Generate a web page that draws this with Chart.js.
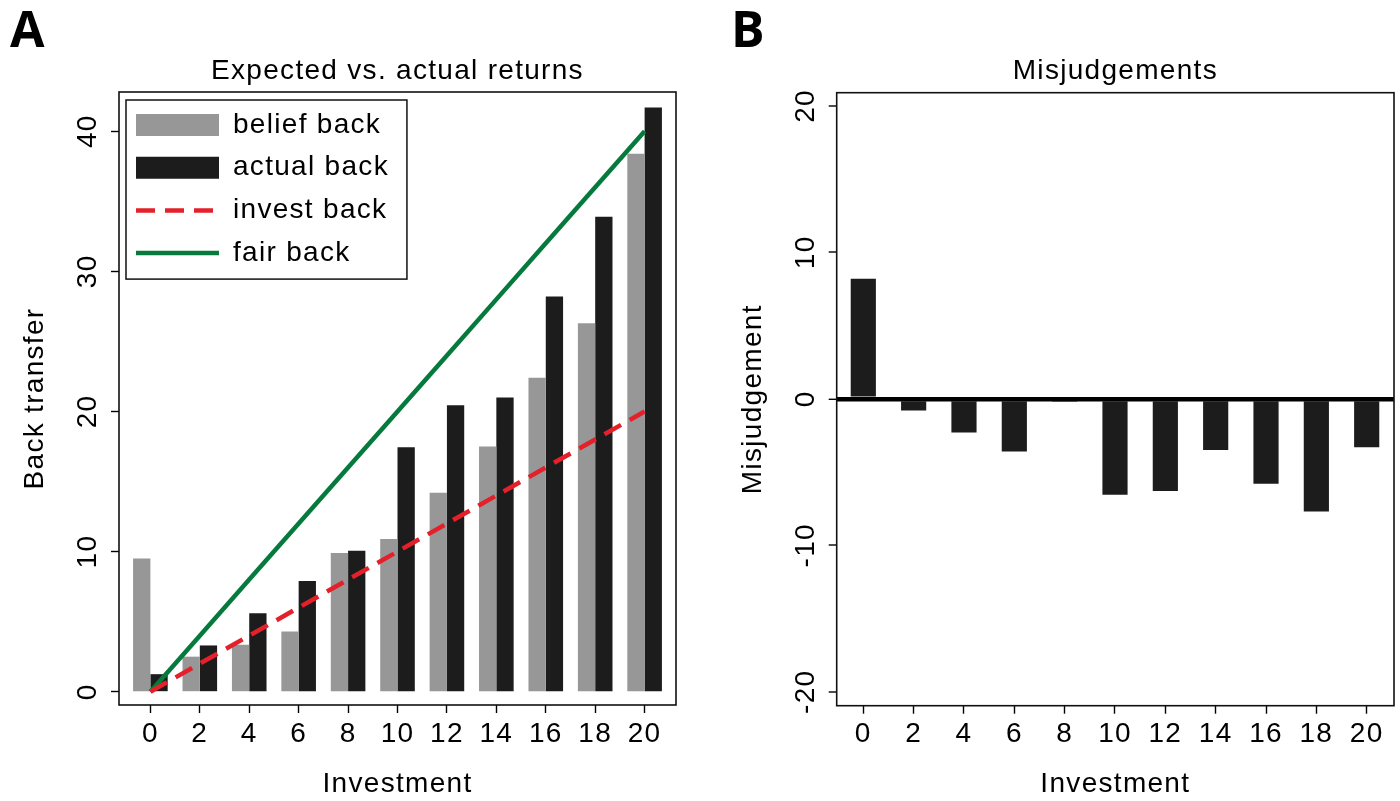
<!DOCTYPE html>
<html>
<head>
<meta charset="utf-8">
<script src="https://cdn.jsdelivr.net/npm/chart.js@4.4.0/dist/chart.umd.min.js"></script>
<style>
  html, body { margin: 0; padding: 0; background: #fff; }
  #wrap { position: relative; width: 1400px; height: 801px; overflow: hidden; }
  .panel { position: absolute; top: 0; }
  .tag { position: absolute; top: 3px; font: bold 50px "Open Sans", sans-serif; line-height: 1; color: #000; }
</style>
</head>
<body>
<div id="wrap">
  <canvas id="chartA" class="panel" width="700" height="801" style="left:0"></canvas>
  <canvas id="chartB" class="panel" width="700" height="801" style="left:700px"></canvas>
  <div class="tag" style="left:10px">A</div>
  <div class="tag" style="left:731px">B</div>
</div>
<script>
// values
const investment = [0, 2, 4, 6, 8, 10, 12, 14, 16, 18, 20];
const beliefBack = [9.5, 2.5, 3.35, 4.3, 9.9, 10.9, 14.2, 17.5, 22.4, 26.3, 38.4];
const actualBack = [1.25, 3.3, 5.6, 7.9, 10.05, 17.45, 20.45, 21.0, 28.2, 33.9, 41.7];
const investBack = [0, 2, 4, 6, 8, 10, 12, 14, 16, 18, 20];
const fairBack = [0, 4, 8, 12, 16, 20, 24, 28, 32, 36, 40];
const misjudgement = [8.2, -0.8, -2.3, -3.6, -0.2, -6.55, -6.3, -3.5, -5.8, -7.7, -3.3];

const xTicks = [0, 2, 4, 6, 8, 10, 12, 14, 16, 18, 20];
const yTicksA = [0, 10, 20, 30, 40];
const yTicksB = [-20, -10, 0, 10, 20];

Chart.defaults.font.family = '"Liberation Sans", Arial, Helvetica, sans-serif';
Chart.defaults.color = '#000';

const GRAY = '#979797';
const DARK = '#1c1c1c';
const RED = '#e4202a';
const GREEN = '#067a3c';

const tickFont = { size: 28 };
const labelFont = { size: 28, weight: 'normal' };

const pts = ys => investment.map((x, i) => ({ x: x, y: ys[i] }));

// the original text is set a little wider than Liberation Sans
const spacingPlugin = {
    id: 'spacing',
    beforeUpdate(chart) { chart.ctx.letterSpacing = '1.3px'; },
    beforeDraw(chart) { chart.ctx.letterSpacing = '1.3px'; }
};

// box round the plot region
const framePlugin = {
    id: 'frame',
    afterDatasetsDraw(chart) {
        const { ctx, chartArea: a } = chart;
        ctx.save();
        ctx.strokeStyle = '#111';
        ctx.lineWidth = 1.6;
        ctx.strokeRect(a.left, a.top, a.right - a.left, a.bottom - a.top);
        ctx.restore();
    }
};

// put the legend inside the plot region and draw a box round it
const legendBoxPlugin = {
    id: 'legendBox',
    afterUpdate(chart) {
        const lg = chart.legend;
        if (!lg) return;
        const a = chart.chartArea;
        lg.left = a.left + 2.3;
        lg.right = lg.left + lg.width;
        lg.top = a.top + 4.3;
        lg.bottom = lg.top + lg.height;
    },
    afterDraw(chart) {
        const lg = chart.legend;
        if (!lg || !lg.legendHitBoxes || !lg.legendHitBoxes.length) return;
        const hb = lg.legendHitBoxes;
        const pad = lg.options.labels.padding;
        const x0 = lg.left + pad;
        const y0 = lg.top + pad;
        const w = Math.max(...hb.map(h => h.width));
        const h = hb.reduce((s, b) => s + b.height, 0) + pad * (hb.length - 1);
        const ctx = chart.ctx;
        ctx.save();
        ctx.strokeStyle = '#111';
        ctx.lineWidth = 1.5;
        ctx.strokeRect(x0 - 10, y0 - 11, w + 28, h + 23);
        ctx.restore();
    }
};

// ── Panel A ──────────────────────────────────────────────────────────────
new Chart(document.getElementById('chartA'), {
    type: 'bar',
    data: {
        datasets: [
            { label: 'belief back', data: pts(beliefBack), backgroundColor: GRAY, order: 1,
              categoryPercentage: 0.7, barPercentage: 1.0 },
            { label: 'actual back', data: pts(actualBack), backgroundColor: DARK, order: 1,
              categoryPercentage: 0.7, barPercentage: 1.0 },
            { type: 'line', label: 'invest back', data: pts(investBack), borderColor: RED,
              backgroundColor: RED, borderWidth: 4.5, borderDash: [19, 10], pointRadius: 0, order: 0 },
            { type: 'line', label: 'fair back', data: pts(fairBack), borderColor: GREEN,
              backgroundColor: GREEN, borderWidth: 4.5, pointRadius: 0, order: 0 }
        ]
    },
    options: {
        responsive: false,
        animation: false,
        events: [],
        layout: { padding: { left: 0, right: 24, top: 0, bottom: 0 } },
        plugins: {
            tooltip: { enabled: false },
            title: {
                display: true, text: 'Expected vs. actual returns', fullSize: false,
                color: '#000', font: labelFont, padding: { top: 54.5, bottom: 3.9 }
            },
            legend: {
                position: 'chartArea', align: 'start',
                labels: {
                    usePointStyle: true, pointStyleWidth: 83, boxWidth: 83, boxHeight: 22,
                    padding: 14.7, color: '#000', font: labelFont,
                    generateLabels: chart => chart.data.datasets.map((ds, i) => ({
                        text: ds.label,
                        fillStyle: ds.backgroundColor,
                        strokeStyle: ds.type === 'line' ? ds.borderColor : ds.backgroundColor,
                        lineWidth: ds.type === 'line' ? ds.borderWidth : 0,
                        lineDash: ds.borderDash || [],
                        lineCap: 'butt',
                        pointStyle: ds.type === 'line' ? 'line' : 'rect',
                        fontColor: '#000',
                        hidden: false,
                        datasetIndex: i
                    }))
                }
            }
        },
        scales: {
            x: {
                type: 'linear', min: -1.27, max: 21.27, offset: false,
                afterBuildTicks: s => { s.ticks = xTicks.map(v => ({ value: v })); },
                afterFit: s => { s.height = 96; },
                border: { display: false },
                grid: { offset: false, drawOnChartArea: false, tickLength: 8, tickColor: '#000', tickWidth: 1.4 },
                ticks: { padding: 4.2, maxRotation: 0, autoSkip: false, font: tickFont, color: '#000' },
                title: { display: true, text: 'Investment', font: labelFont, color: '#000', padding: { top: 0, bottom: 0 } }
            },
            y: {
                type: 'linear', min: -0.95, max: 42.8,
                afterBuildTicks: s => { s.ticks = yTicksA.map(v => ({ value: v })); },
                afterFit: s => { s.width = 119; },
                border: { display: false },
                grid: { drawOnChartArea: false, tickLength: 8, tickColor: '#000', tickWidth: 1.4 },
                ticks: { minRotation: 90, maxRotation: 90, crossAlign: 'center', padding: 5.8,
                         font: tickFont, color: '#000', callback: v => String(v) },
                title: { display: true, text: 'Back transfer', font: labelFont, color: '#000', padding: { top: 18.2, bottom: 0 } }
            }
        }
    },
    plugins: [spacingPlugin, framePlugin, legendBoxPlugin]
});

// ── Panel B ──────────────────────────────────────────────────────────────
new Chart(document.getElementById('chartB'), {
    type: 'bar',
    data: {
        datasets: [
            { label: 'Misjudgement', data: pts(misjudgement), backgroundColor: DARK,
              categoryPercentage: 0.5, barPercentage: 1.0 }
        ]
    },
    options: {
        responsive: false,
        animation: false,
        events: [],
        layout: { padding: { left: 0, right: 6, top: 0, bottom: 0 } },
        plugins: {
            tooltip: { enabled: false },
            legend: { display: false },
            title: {
                display: true, text: 'Misjudgements', fullSize: false,
                color: '#000', font: labelFont, padding: { top: 54.5, bottom: 4.6 }
            }
        },
        scales: {
            x: {
                type: 'linear', min: -1.057, max: 21.085, offset: false,
                afterBuildTicks: s => { s.ticks = xTicks.map(v => ({ value: v })); },
                afterFit: s => { s.height = 95.3; },
                border: { display: false },
                grid: { offset: false, drawOnChartArea: false, tickLength: 8, tickColor: '#000', tickWidth: 1.4 },
                ticks: { padding: 4.2, maxRotation: 0, autoSkip: false, font: tickFont, color: '#000' },
                title: { display: true, text: 'Investment', font: labelFont, color: '#000', padding: { top: 0, bottom: 0 } }
            },
            y: {
                type: 'linear', min: -20.95, max: 20.9,
                afterBuildTicks: s => { s.ticks = yTicksB.map(v => ({ value: v })); },
                afterFit: s => { s.width = 136.7; },
                border: { display: false },
                grid: {
                    drawOnChartArea: true, tickLength: 8, tickColor: '#000', tickWidth: 1.4, color: '#000',
                    lineWidth: c => (c.tick && c.tick.value === 0 ? 4.6 : 0)
                },
                ticks: { minRotation: 90, maxRotation: 90, crossAlign: 'center', padding: 0,
                         font: tickFont, color: '#000', callback: v => String(v) },
                title: { display: true, text: 'Misjudgement', font: labelFont, color: '#000', padding: { top: 36.2, bottom: 0 } }
            }
        }
    },
    plugins: [spacingPlugin, framePlugin]
});
</script>
</body>
</html>
